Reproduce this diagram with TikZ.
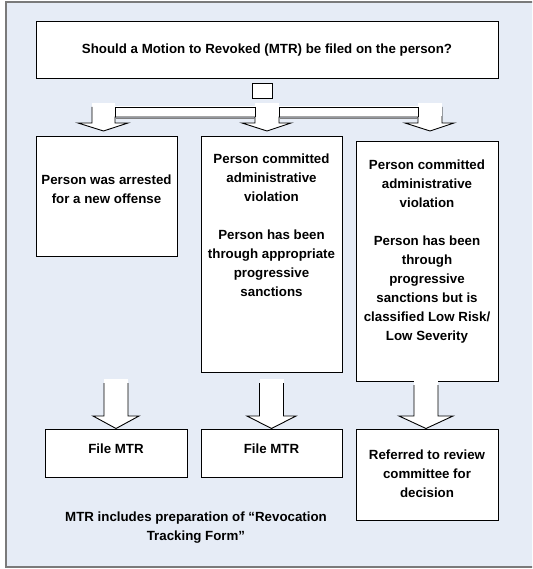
\documentclass[tikz,border=0pt]{standalone}
\usepackage{fontspec}
\setmainfont{Liberation Sans}
\definecolor{bgblue}{HTML}{E6ECF6}
\definecolor{framegray}{HTML}{7A7A7A}
\newcommand\dnarrow[6]{%
  \fill[white] ({#1-#2},{#4-4}) rectangle ({#1+#2},#5);
  \draw[arr,fill=white] ({#1-#2},#4) -- ({#1-#2},#5) -- ({#1-#3},#5) -- (#1,#6)
    -- ({#1+#3},#5) -- ({#1+#2},#5) -- ({#1+#2},#4);}
\begin{document}
\begin{tikzpicture}[x=1pt,y=-1pt,
  box/.style={draw=black,fill=white,line width=0.9pt,inner sep=0pt},
  txt/.style={align=center,inner sep=0pt,font=\fontsize{13.3}{19}\selectfont\bfseries},
  arr/.style={draw=black,line width=0.9pt,line join=miter}]
\clip (0,0) rectangle (532,569);
\fill[white] (0,0) rectangle (532,569);
\draw[fill=bgblue,draw=framegray,line width=2pt] (6,2) rectangle (545,567);

% top question
\node[box,minimum width=462,minimum height=57] (q) at (267,49.5) {};
\node[txt,anchor=north] (qt) at (267,44) {Should a Motion to Revoked (MTR) be filed on the person?};
\node[box,minimum width=20,minimum height=15] (sq) at (262,90.5) {};

% branching block arrow
\fill[white] (92,103) rectangle (115,123);
\fill[white] (255,103) rectangle (279,123);
\fill[white] (418,103) rectangle (442,123);
\draw[arr,fill=white] (92,107) -- (92,123) -- (78,123) -- (103.5,131) -- (128,123) -- (115,123)
  -- (115,117) -- (255,117) -- (255,123) -- (242,123) -- (267,131) -- (291,123) -- (279,123)
  -- (279,117) -- (418,117) -- (418,123) -- (405,123) -- (430,131) -- (454,123) -- (442,123) -- (442,107);
\fill[white] (92.5,106) rectangle (441.5,116.5);
\draw[arr] (115,107) -- (255,107) (279,107) -- (418,107);
\draw[arr] (115,107) -- (115,117) (255,107) -- (255,117) (279,107) -- (279,117) (418,107) -- (418,117);
\draw[gray,line width=0.8pt] (115.5,118.5) -- (254.5,118.5) (279.5,118.5) -- (417.5,118.5);

% middle row boxes
\node[box,minimum width=141,minimum height=120] (c1) at (106.5,196) {};
\node[box,minimum width=141,minimum height=236] (c2) at (271.5,254) {};
\node[box,minimum width=142,minimum height=240] (c3) at (427,261) {};
\node[txt,anchor=north] (t1) at (106.5,175) {Person was arrested\\for a new offense};
\node[txt,anchor=north] (t2) at (271.5,154) {Person committed\\administrative\\violation\\[19pt]Person has been\\through appropriate\\progressive\\sanctions};
\node[txt,anchor=north] (t3) at (427,160) {Person committed\\administrative\\violation\\[19pt]Person has been\\through\\progressive\\sanctions but is\\classified Low Risk/\\Low Severity};

% lower arrows
\dnarrow{116}{12}{23}{383}{416}{428.5}
\dnarrow{271.5}{12}{24.5}{383}{416}{428.5}
\dnarrow{426}{12}{27}{385}{416}{428.5}

% bottom boxes
\node[box,minimum width=142,minimum height=48] (b1) at (116,453) {};
\node[box,minimum width=141,minimum height=48] (b2) at (271.5,453) {};
\node[box,minimum width=142,minimum height=91] (b3) at (427,474.5) {};
\node[txt,anchor=north] (bt1) at (116,444) {File MTR};
\node[txt,anchor=north] (bt2) at (271.5,444) {File MTR};
\node[txt,anchor=north] (bt3) at (427,450) {Referred to review\\committee for\\decision};

\node[txt,anchor=north] (note) at (196,512) {MTR includes preparation of “Revocation\\Tracking Form”};
\end{tikzpicture}
\end{document}
